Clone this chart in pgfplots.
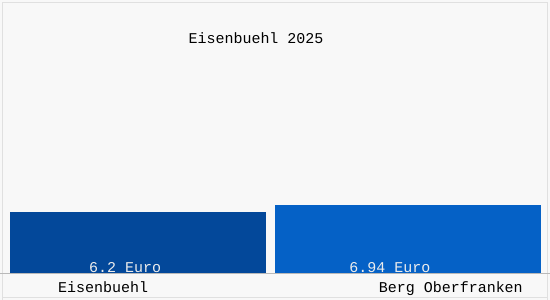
\documentclass[border=0pt]{standalone}
\usepackage{pgfplots}
\pgfplotsset{compat=1.18}
\usepackage{fontspec}
\setmainfont{Liberation Mono}
\definecolor{bgc}{RGB}{248,248,248}
\definecolor{barA}{RGB}{3,72,154}
\definecolor{barB}{RGB}{5,97,198}
\definecolor{basec}{RGB}{185,185,185}
\begin{document}
\begin{tikzpicture}[x=1pt,y=1pt]
\fill[bgc] (0,0) rectangle (550,300);
\draw[white!88!black,line width=0.6pt] (2.5,0) -- (2.5,297.5) -- (547.5,297.5) -- (547.5,0);
\draw[white!88!black,line width=0.6pt] (2.5,2.5) -- (547.5,2.5);
\begin{axis}[
  at={(0,0)}, anchor=south west,
  scale only axis, width=550pt, height=300pt,
  xmin=0, xmax=550,
  ymin=-2.626, ymax=27.677,
  hide axis, clip=false,
  ybar, bar shift=0pt,
]
\addplot[fill=barA, draw=none, bar width=256] coordinates {(138,6.2)};
\addplot[fill=barB, draw=none, bar width=266] coordinates {(408,6.94)};
\end{axis}
\draw[basec,line width=0.6pt] (0,26) -- (550,26);
\fontsize{15}{17}\selectfont
\node[anchor=base,inner sep=0] at (256,256) {Eisenbuehl 2025};
\node[anchor=base,inner sep=0,text=white!93!black] at (125,27) {6.2 Euro};
\node[anchor=base,inner sep=0,text=white!93!black] at (390,27) {6.94 Euro};
\node[anchor=base,inner sep=0] at (103,7) {Eisenbuehl};
\node[anchor=base,inner sep=0] at (451,7) {Berg Oberfranken};
\end{tikzpicture}
\end{document}
